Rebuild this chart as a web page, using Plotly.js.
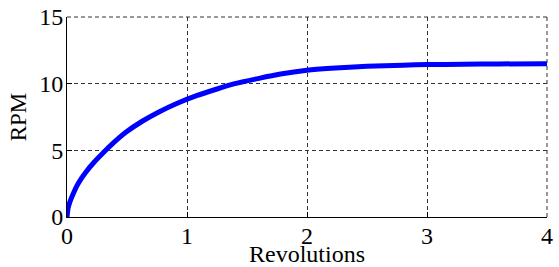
<!DOCTYPE html>
<html>
<head>
<meta charset="utf-8">
<script src="https://cdn.plot.ly/plotly-3.0.1.min.js"></script>
<style>html,body{margin:0;padding:0;background:#fff;}#chart{width:559px;height:267px;}</style>
</head>
<body>
<div id="chart"></div>
<script>
var revolutions = [0, 0.01, 0.025, 0.05, 0.08, 0.12, 0.16, 0.22, 0.30, 0.38, 0.49, 0.63, 0.77, 0.91, 1.08, 1.25, 1.39, 1.6, 1.78, 2.0, 2.2, 2.5, 2.8, 3.0, 3.3, 3.6, 4.0];
var rpm = [0, 0.7, 1.15, 1.7, 2.3, 2.9, 3.4, 4.05, 4.8, 5.5, 6.35, 7.2, 7.9, 8.5, 9.1, 9.6, 9.98, 10.4, 10.72, 11.0, 11.15, 11.3, 11.39, 11.43, 11.46, 11.48, 11.5];
var xTicks = [0, 1, 2, 3, 4];
var yTicks = [0, 5, 10, 15];

var fontFam = "Liberation Serif";
var data = [{
  x: revolutions, y: rpm, type: 'scatter', mode: 'lines',
  line: {color: '#0000ff', width: 5, shape: 'spline', smoothing: 0.6},
  hoverinfo: 'skip'
}];
var gridCol = '#333';
var axisCommon = {
  showgrid: true, gridcolor: gridCol, griddash: '4px,3px', gridwidth: 1,
  showline: true, linecolor: '#000', linewidth: 1, mirror: false,
  ticks: 'inside', ticklen: 5, tickcolor: '#000',
  zeroline: false, fixedrange: true,
  tickfont: {family: fontFam, size: 24, color: '#000'}
};
var layout = {
  width: 559, height: 267,
  margin: {l: 67, r: 12, t: 17, b: 50},
  paper_bgcolor: '#fff', plot_bgcolor: '#fff',
  showlegend: false,
  font: {family: fontFam, size: 24, color: '#000'},
  xaxis: Object.assign({}, axisCommon, {
    range: [0, 4], tickvals: xTicks, ticktext: xTicks.map(String),
    ticklabelstandoff: -3,
    title: {text: 'Revolutions', font: {family: fontFam, size: 24, color: '#000'}, standoff: 2}
  }),
  yaxis: Object.assign({}, axisCommon, {
    range: [0, 15], tickvals: yTicks, ticktext: yTicks.map(String),
    ticklabelstandoff: -2,
    title: {text: 'RPM', font: {family: fontFam, size: 23, color: '#000'}, standoff: 6}
  }),
  shapes: [
    {type: 'line', xref: 'paper', yref: 'paper', x0: 0, x1: 1, y0: 1, y1: 1,
     line: {color: gridCol, width: 1, dash: '4px,3px'}},
    {type: 'line', xref: 'paper', yref: 'paper', x0: 1, x1: 1, y0: 0, y1: 1,
     line: {color: gridCol, width: 1, dash: '4px,3px'}}
  ]
};
Plotly.newPlot('chart', data, layout, {displayModeBar: false, staticPlot: true});
</script>
</body>
</html>
